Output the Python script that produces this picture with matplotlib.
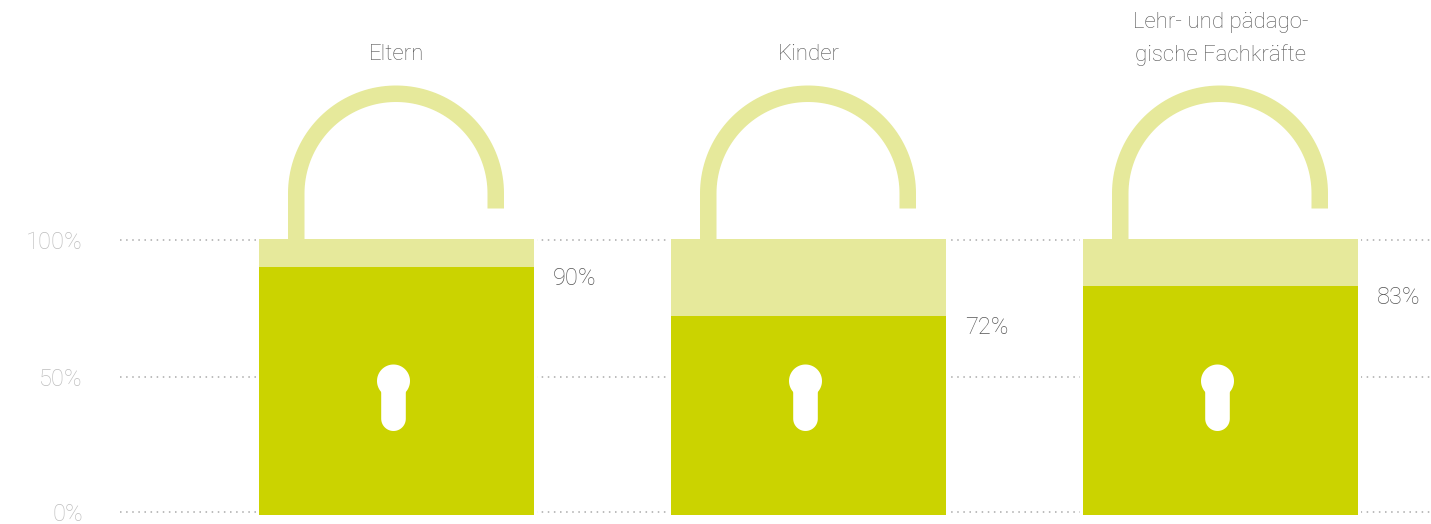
import numpy as np
import matplotlib
matplotlib.use("Agg")
import matplotlib.pyplot as plt
from matplotlib.patches import Rectangle, PathPatch
from matplotlib.path import Path
from matplotlib.transforms import Affine2D

categories = ["Eltern", "Kinder", "Lehr- und pädago-\ngische Fachkräfte"]
values = [90, 72, 83]
tick_values = [0, 50, 100]
tick_labels = ["0%", "50%", "100%"]
# where each dotted guide sits on the value scale
guide_levels = [1.1, 50.0, 99.5]

DARK = "#CBD300"
LIGHT = "#E6E99B"
W, H = 1431, 524
CX0, STEP = 396.5, 412.0
BAR_W = 275 / STEP
TOP, BOT = 239.0, 515.0

plt.rcParams["font.family"] = ["Roboto", "DejaVu Sans"]
fig = plt.figure(figsize=(W / 100, H / 100), dpi=100, facecolor="white")
ax = fig.add_axes([0, (H - BOT) / H, 1, (BOT - TOP) / H])
ax.set_xlim(-CX0 / STEP, (W - CX0) / STEP)
ax.set_ylim(0, 100)
ax.axis("off")

x = np.arange(len(categories))
for lvl in guide_levels:
    ax.plot([(120 - CX0) / STEP, (W - CX0) / STEP - 0.002], [lvl, lvl], color="#AAAAAA", lw=1.1,
            dashes=(1.0, 3.0), clip_on=False, zorder=1)

px = 1.0  # display pixels
def shackle_path():
    # offsets in pixels from the bar centre / bar top, y up
    ro, ri = 108.0, 91.5
    r = (ro + ri) / 2
    cy = 45.5
    t = np.linspace(np.pi, 0, 80)
    xs = r * np.cos(t) - 0.0
    ys = cy + r * np.sin(t)
    xs = np.r_[-r, xs, r]
    ys = np.r_[0, ys, 30.5]
    return np.c_[xs, ys]

def keyhole_paths():
    rc, rs = 16.5, 12.3
    cy, bottom = -142.0, -192.0 + 12.3 - 0.0
    return rc, rs, cy, bottom

for xi, v, c in zip(x, values, categories):
    # white halo that interrupts the guides beside each lock
    ax.add_patch(Rectangle((xi - BAR_W / 2 - 3 / STEP, 0), BAR_W + 6 / STEP, 100, fc="white", ec="none", zorder=1.5))
    ax.bar(xi, 100, width=BAR_W, color=LIGHT, zorder=2)
    ax.bar(xi, v, width=BAR_W, color=DARK, zorder=3)

    ox, oy = ax.transData.transform((xi, 100))
    ox -= 0.5
    tr = Affine2D().translate(ox, oy)
    pts = shackle_path()
    ax.add_patch(PathPatch(Path(pts), fc="none", ec=LIGHT, lw=16.5 * 0.72, capstyle="butt",
                           joinstyle="round", transform=tr, clip_on=False, zorder=2))

    # keyhole
    kx = -2.5
    rc, rs, cy, bottom = keyhole_paths()
    t = np.linspace(0, 2 * np.pi, 80)
    ax.add_patch(PathPatch(Path(np.c_[kx + rc * np.cos(t), cy + rc * np.sin(t)]), fc="white", ec="none",
                           transform=tr, clip_on=False, zorder=4))
    t2 = np.linspace(np.pi, 2 * np.pi, 40)
    stem = np.r_[[[kx - rs, cy]], np.c_[kx + rs * np.cos(t2), bottom + rs * np.sin(t2)], [[kx + rs, cy]]]
    ax.add_patch(PathPatch(Path(stem), fc="white", ec="none", transform=tr, clip_on=False, zorder=4))

    # value label
    ax.annotate(f"{v}%", (xi + BAR_W / 2, v), xytext=(19 * 0.72, -11.5 * 0.72), textcoords="offset points",
                ha="left", va="center", fontsize=17, color="#555555", fontweight="light", zorder=5)
    # category label
    ax.annotate(c, (xi, 100), xytext=(0, (239 - 55) * 0.72), textcoords="offset points",
                ha="center", va="center", fontsize=16, color="#555555", fontweight="light",
                linespacing=1.65, clip_on=False) if "\n" not in c else \
    ax.annotate(c, (xi, 100), xytext=(0, (239 - 39) * 0.72), textcoords="offset points",
                ha="center", va="center", fontsize=16, color="#555555", fontweight="light",
                linespacing=1.65, clip_on=False)

for tv, lab, lvl in zip(tick_values, tick_labels, guide_levels):
    ax.annotate(lab, (ax.get_xlim()[0], lvl), xytext=(83 * 0.72, -2.5 * 0.72), textcoords="offset points",
                ha="right", va="center", fontsize=17, color="#BDBDBD", fontweight="light")

fig.savefig("out.png", dpi=100, facecolor="white")
